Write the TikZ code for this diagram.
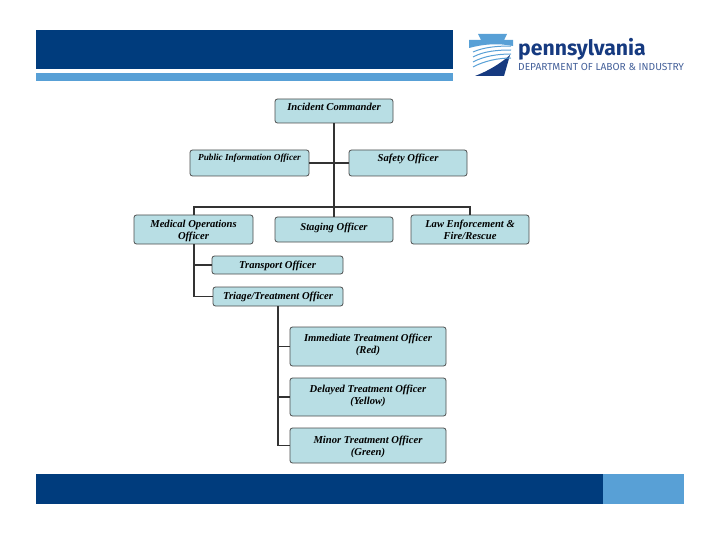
\documentclass[tikz,border=0pt]{standalone}
\usepackage{fontspec}
\setmainfont{Liberation Serif}
\newfontfamily\logofont{Fira Sans}
\usepackage{xcolor}
\usetikzlibrary{positioning}
\definecolor{navy}{RGB}{0,60,125}
\definecolor{skyb}{RGB}{88,160,214}
\definecolor{pale}{RGB}{184,222,228}
\definecolor{logod}{RGB}{22,58,128}
\tikzset{
  officer/.style={draw=black!70,fill=pale,rounded corners=2.5pt,line width=0.8pt,align=center,inner sep=0pt,
    font=\fontsize{10.6}{12}\selectfont\itshape\bfseries},
  link/.style={black!80,line width=1.2pt},
}
\begin{document}
\begin{tikzpicture}[x=1pt,y=-1pt]
  \useasboundingbox (0,0) rectangle (720,540);
  % bars
  \fill[navy] (36,30) rectangle (453,69);
  \fill[skyb] (36,73) rectangle (453,81);
  \fill[navy] (36,474) rectangle (603,504);
  \fill[skyb] (603,474) rectangle (684,504);
  % logo
  \fill[skyb] (478,34) -- (507,34) -- (504,40) -- (513,40) -- (513,46) .. controls (498,43) and (484,44) .. (469,48) -- (469,40) -- (481,40) -- cycle;
  \fill[logod] (475,76) .. controls (488,71) and (500,64) .. (510,55) -- (504,76) -- cycle;
  \foreach \ya/\yb/\yc in {52/47/46,57/51/50,62/56/54,67/61/58} {
    \draw[skyb,line width=1pt] (473,\ya) .. controls (484,\yb) and (498,\yc) .. (511,\yc);
  }
  \node[font=\logofont\fontsize{21.2}{21}\selectfont\bfseries,text=logod,anchor=base west,inner sep=0pt] (brand) at (518,56) {pennsylvania};
  \node[font=\logofont\fontsize{10.2}{10}\selectfont,text=logod!80,anchor=base west,inner sep=0pt] (dept) at (518,71) {DEPARTMENT OF LABOR \& INDUSTRY};
  % chart
  \foreach \nm/\xa/\ya/\xb/\yb/\hgt/\dep/\txt in {
    cmd/275/99/393/123/7/7/{Incident Commander},
    pio/190/150/309/176/7/11/{\fontsize{9.2}{12}\selectfont Public Information Officer},
    saf/349/150/467/176/7/9/{Safety Officer},
    med/134/215/253/244/21/0/{Medical Operations\\Officer},
    stag/275/217/393/242/7/6/{Staging Officer},
    law/411/215/529/244/21/0/{Law Enforcement \&\\Fire/Rescue},
    trans/212/256/343/274/7/1/{Transport Officer},
    triage/213/287/343/306/7/2/{Triage/Treatment Officer},
    imm/290/327/446/366/13/0/{Immediate Treatment Officer\\(Red)},
    del/290/378/446/416/14/0/{Delayed Treatment Officer\\(Yellow)},
    minor/290/428/446/463/19/0/{Minor Treatment Officer\\(Green)}} {
    \pgfmathsetmacro{\boxw}{\xb-\xa}
    \pgfmathsetmacro{\boxh}{\yb-\ya}
    \node[officer,text height=\hgt pt,text depth=\dep pt,minimum width=\boxw pt,minimum height=\boxh pt] (\nm) at ({(\xa+\xb)/2},{(\ya+\yb)/2}) {\txt};
  }
  \coordinate (medtop) at (194,215);
  \coordinate (medbot) at (194,244);
  \coordinate (lawtop) at (470,215);
  \coordinate (trgbot) at (278,306);
  \draw[link] (cmd.south) -- (stag.north);
  \draw[link] (pio.east) -- (saf.west);
  \draw[link] (medtop) -- ++(0,-8) -| (lawtop);
  \draw[link] (medbot) |- (trans.west);
  \draw[link] (medbot) |- (triage.west);
  \draw[link] (trgbot) |- (imm.west);
  \draw[link] (trgbot) |- (del.west);
  \draw[link] (trgbot) |- (minor.west);
\end{tikzpicture}
\end{document}
